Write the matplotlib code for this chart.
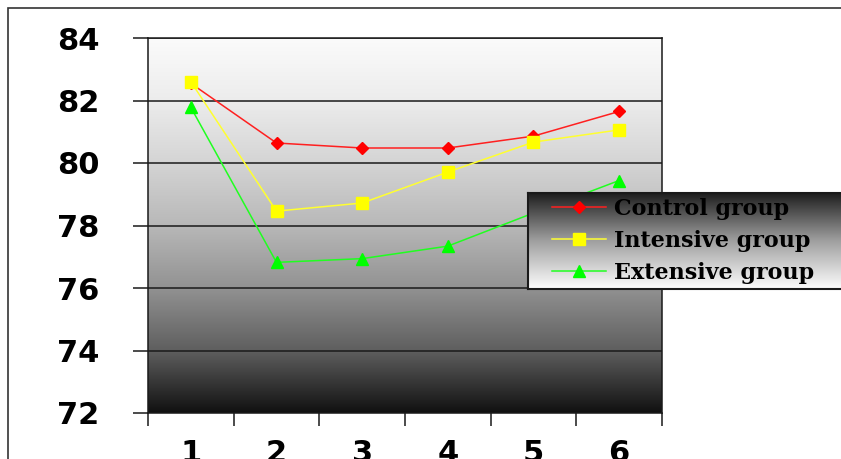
import numpy as np
import matplotlib
matplotlib.use('Agg')
import matplotlib.pyplot as plt
from matplotlib.colors import LinearSegmentedColormap
from matplotlib.patches import Rectangle

matplotlib.rc('font', family='DejaVu Sans', weight='bold')

groups = [1, 2, 3, 4, 5, 6]
control = [82.55, 80.64, 80.48, 80.48, 80.86, 81.65]
intensive = [82.6, 78.46, 78.72, 79.71, 80.67, 81.06]
extensive = [81.78, 76.82, 76.94, 77.34, 78.4, 79.44]
labels = ['Control group', 'Intensive group', 'Extensive group']

W, H = 841, 459
fig = plt.figure(figsize=(W / 100, H / 100), dpi=100)

# outer frame
fig.patches.append(Rectangle((8 / W, -0.1), 1.0, 1 - 8 / H + 0.1,
                             transform=fig.transFigure, fill=False,
                             edgecolor='#333333', lw=1.2))

ax = fig.add_axes([148 / W, 1 - 413 / H, (662 - 148) / W, (413 - 38) / H])

bg = LinearSegmentedColormap.from_list(
    'bg', [(0, '#111111'), (1 / 6, '#5f5f5f'), (2 / 6, '#929292'),
           (3 / 6, '#b8b8b8'), (4 / 6, '#d4d4d4'), (5 / 6, '#ececec'),
           (1, '#fbfbfb')])
grad = np.linspace(0, 1, 256).reshape(-1, 1)
ax.imshow(grad, cmap=bg, origin='lower', aspect='auto',
          extent=[0.5, 6.5, 72, 84], zorder=0)

for yv in range(74, 85, 2):
    ax.axhline(yv, color='#1a1a1a', lw=1.1, zorder=1)

h1, = ax.plot(groups, control, color='#ff2020', lw=1.1, marker='D',
              ms=6, mfc='#ff0000', mec='#ff0000', zorder=3)
h2, = ax.plot(groups, intensive, color='#ffff30', lw=1.1, marker='s',
              ms=8, mfc='#ffff00', mec='#ffff00', zorder=3)
h3, = ax.plot(groups, extensive, color='#20ff20', lw=1.1, marker='^',
              ms=8, mfc='#00ff00', mec='#00ff00', zorder=3)

ax.set_xlim(0.5, 6.5)
ax.set_ylim(72, 84)
ax.set_yticks(range(72, 85, 2))
ax.set_xticks(np.arange(0.5, 7, 1))
ax.set_xticklabels([])
ax.set_xticks(groups, minor=True)
ax.set_xticklabels([str(g) for g in groups], minor=True)
ax.tick_params(axis='y', length=11, width=1.1, pad=24, labelsize=22,
               color='#1a1a1a')
ax.tick_params(axis='x', which='major', length=9, width=1.1,
               color='#1a1a1a')
ax.tick_params(axis='x', which='minor', length=0, pad=19, labelsize=22)
for s in ax.spines.values():
    s.set_color('#1a1a1a')
    s.set_linewidth(1.1)

# legend box with gradient
lax = fig.add_axes([528 / W, 1 - 289 / H, (850 - 528) / W, (289 - 193) / H])
lg = LinearSegmentedColormap.from_list(
    'lg', [(0, '#fdfdfd'), (0.5, '#a0a0a0'), (1, '#1e1e1e')])
lax.imshow(grad, cmap=lg, origin='lower', aspect='auto',
           extent=[0, 1, 0, 1])
lax.set_xticks([])
lax.set_yticks([])
for s in lax.spines.values():
    s.set_color('#1a1a1a')
    s.set_linewidth(1.5)
lax.legend([h1, h2, h3], labels, loc='center left',
           bbox_to_anchor=(0.0, 0.5), frameon=False, handlelength=2.4,
           labelspacing=0.45, handletextpad=0.35, borderaxespad=0.7,
           prop={'family': 'DejaVu Serif', 'weight': 'bold',
                 'size': 16})

fig.savefig('out.png', dpi=100)
